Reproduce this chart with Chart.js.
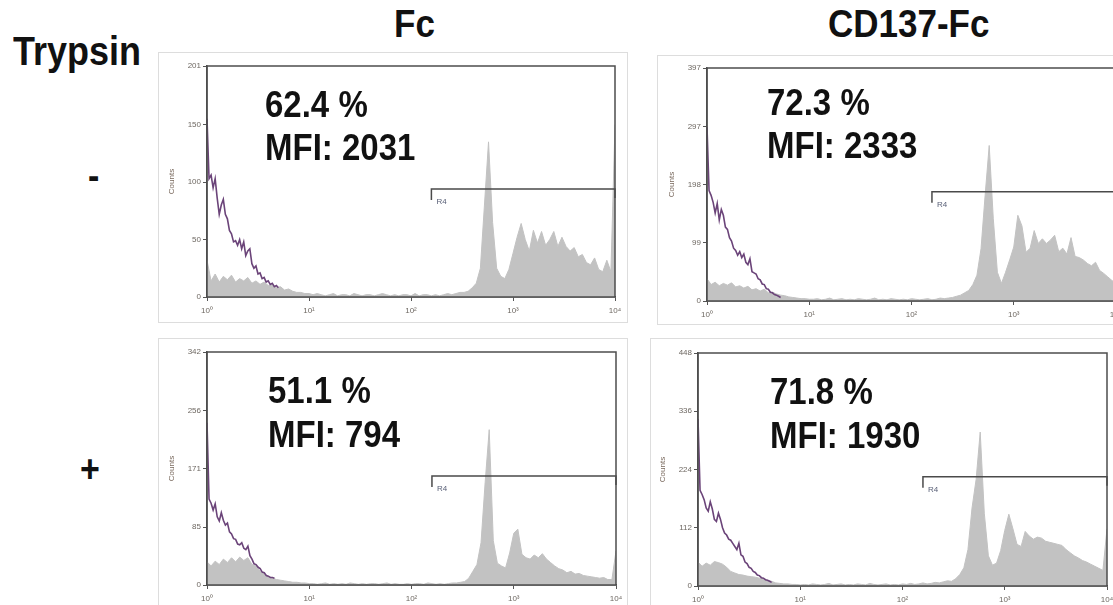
<!DOCTYPE html>
<html>
<head>
<meta charset="utf-8">
<script src="https://cdn.jsdelivr.net/npm/chart.js@4.4.1/dist/chart.umd.min.js"></script>
<style>
  html, body { margin: 0; padding: 0; background: #fff; width: 1113px; height: 605px; overflow: hidden; }
  body { position: relative; font-family: "Liberation Sans", Arial, sans-serif; }
  .lbl { position: absolute; font-weight: bold; color: #111; line-height: 1; white-space: nowrap; transform: scaleY(1.12); transform-origin: left bottom; }
  canvas { position: absolute; outline: 1px solid #dddddd; outline-offset: -1px; }
</style>
</head>
<body>
<div class="lbl" style="left:13px;top:36px;font-size:36px">Trypsin</div>
<div class="lbl" style="left:88px;top:161px;font-size:34px">-</div>
<div class="lbl" style="left:80px;top:454px;font-size:34px">+</div>
<div class="lbl" style="left:394px;top:8px;font-size:35px">Fc</div>
<div class="lbl" style="left:828px;top:8px;font-size:35px">CD137-Fc</div>

<canvas id="p1" width="470" height="271" style="left:158px;top:52px"></canvas>
<canvas id="p2" width="472" height="270" style="left:657px;top:55px"></canvas>
<canvas id="p3" width="470" height="275" style="left:158px;top:338px"></canvas>
<canvas id="p4" width="470" height="275" style="left:650px;top:338px"></canvas>

<script>
// x axis is in decades (10^0 .. 10^4); gray bins are 0.04 decade wide, isotype trace 0.02
const xTickValues = [0, 1, 2, 3, 4];
const xTickLabels = ['10⁰', '10¹', '10²', '10³', '10⁴'];
const grayStep = 0.04;
const purpleStep = 0.02;
const gateStart = 2.2;
const gateEnd = 4;

const yTicksFcMinus = [0, 50, 100, 150, 201];
const yTicksCdMinus = [0, 99, 198, 297, 397];
const yTicksFcPlus = [0, 85, 171, 256, 342];
const yTicksCdPlus = [0, 112, 224, 336, 448];

const gateLevels = [94, 186, 160, 210];
const percentLabels = ['62.4 %', '72.3 %', '51.1 %', '71.8 %'];
const mfiLabels = ['MFI: 2031', 'MFI: 2333', 'MFI: 794', 'MFI: 1930'];

// Fc, trypsin -
const grayFcMinus = [32,14,20,13,18,15,19,13,16,14,17,12,14,11,13,10,11,8,9,6,7,5,4,4,3,3,
  2,3,2,1,2,3,1,2,2,1,3,2,1,2,2,1,2,3,2,1,2,1,2,2,1,3,1,2,2,1,2,1,2,3,2,3,4,
  4,5,8,12,25,80,135,65,25,18,16,24,38,52,64,50,40,58,47,57,45,50,57,44,52,44,40,43,35,37,30,28,34,24,22,32,22,150];
const purpleFcMinus = [155,103,106,95,103,86,72,80,85,72,68,58,55,48,49,45,50,42,48,36,40,42,29,25,27,20,21,16,17,13,14,11,12,9,10,8];

// CD137-Fc, trypsin -
const grayCdMinus = [38,28,32,26,30,27,31,24,26,22,25,19,21,17,20,14,15,12,10,9,7,6,5,4,4,3,
  3,4,2,3,5,2,3,4,2,3,2,4,3,2,3,5,2,3,2,4,3,2,3,2,4,3,2,3,4,2,3,5,4,5,6,8,
  10,14,18,28,44,89,180,265,140,49,30,49,70,92,146,128,83,90,120,98,106,98,104,112,84,90,80,108,76,74,70,64,60,66,52,47,41,35,30];
const purpleCdMinus = [296,188,180,168,150,166,138,156,146,126,122,108,102,90,86,78,84,74,80,66,62,72,50,48,46,38,36,29,28,21,20,15,14,11,10,8,6];

// Fc, trypsin +
const grayFcPlus = [34,28,35,30,38,33,40,34,41,36,40,30,28,20,16,12,10,8,7,6,5,4,4,3,3,2,
  2,1,2,3,1,2,1,2,1,3,2,1,2,1,2,2,1,2,3,1,2,1,1,2,1,2,2,1,3,2,1,2,1,2,3,3,4,
  5,10,20,30,62,150,228,65,32,28,25,47,76,82,45,40,38,44,40,46,38,33,28,24,22,18,20,16,17,14,13,12,11,10,11,8,8,50];
const purpleFcPlus = [238,126,120,110,119,100,94,106,95,88,91,78,75,68,67,60,59,62,54,52,57,43,38,31,30,26,24,19,18,14,13,11,11,10];

// CD137-Fc, trypsin +
const grayCdPlus = [46,38,44,40,47,45,42,36,28,25,22,21,19,18,17,15,13,11,9,6,5,4,4,3,3,2,
  3,2,4,3,2,3,5,2,3,4,2,3,2,4,3,2,5,3,2,3,4,2,3,2,4,3,5,3,4,6,4,5,7,6,8,10,9,
  14,22,35,70,150,205,296,140,58,40,44,68,107,138,110,80,76,105,96,90,94,92,86,84,82,80,78,70,64,58,54,49,46,42,38,34,30,110];
const purpleCdPlus = [321,184,176,166,150,144,162,148,128,124,140,128,112,102,98,90,88,82,76,70,82,60,57,46,43,36,34,28,26,21,20,16,15,12,11,9,7];

const panels = [
  { id: 'p1', gray: grayFcMinus, purple: purpleFcMinus, yTicks: yTicksFcMinus, pad: {left: 7, top: 14, right: 13, bottom: 0}, xH: 26, text: [58, 51, 94] },
  { id: 'p2', gray: grayCdMinus, purple: purpleCdMinus, yTicks: yTicksCdMinus, pad: {left: 8, top: 13, right: 13, bottom: 0}, xH: 24, text: [60, 47, 90] },
  { id: 'p3', gray: grayFcPlus, purple: purpleFcPlus, yTicks: yTicksFcPlus, pad: {left: 7, top: 14, right: 12, bottom: 0}, xH: 28, text: [61, 51, 95] },
  { id: 'p4', gray: grayCdPlus, purple: purpleCdPlus, yTicks: yTicksCdPlus, pad: {left: 6, top: 15, right: 13, bottom: 0}, xH: 27, text: [72, 51, 95] }
];

const toPoints = (arr, step) => arr.map((v, i) => ({ x: i * step, y: v }));

// frame, R4 gate and the stats text
const panelDecor = {
  id: 'panelDecor',
  afterDatasetsDraw(chart, args, opts) {
    const { ctx, chartArea: a, scales: { x, y } } = chart;
    ctx.save();
    const gx1 = x.getPixelForValue(gateStart);
    const gx2 = x.getPixelForValue(gateEnd);
    const gy = y.getPixelForValue(gateLevels[opts.idx]);
    ctx.strokeStyle = '#4a4a4a';
    ctx.lineWidth = 1.5;
    ctx.beginPath();
    ctx.moveTo(gx1, gy + 11);
    ctx.lineTo(gx1, gy);
    ctx.lineTo(gx2, gy);
    ctx.lineTo(gx2, gy + 9);
    ctx.stroke();
    ctx.fillStyle = '#5a6178';
    ctx.font = '8px "Liberation Sans", Arial, sans-serif';
    ctx.textBaseline = 'middle';
    ctx.fillText('R4', gx1 + 5, gy + 13);

    ctx.strokeStyle = '#4d4d4d';
    ctx.lineWidth = 1.5;
    ctx.strokeRect(a.left, a.top, a.right - a.left, a.bottom - a.top);

    const t = opts.text;
    ctx.fillStyle = '#111';
    ctx.font = 'bold 33px "Liberation Sans", Arial, sans-serif';
    ctx.textBaseline = 'alphabetic';
    [[percentLabels[opts.idx], t[1]], [mfiLabels[opts.idx], t[2]]].forEach(([s, dy]) => {
      ctx.save();
      ctx.translate(a.left + t[0], a.top + dy);
      ctx.scale(1, 1.12);
      ctx.fillText(s, 0, 0);
      ctx.restore();
    });
    ctx.restore();
  }
};

panels.forEach((p, idx) => {
  new Chart(document.getElementById(p.id), {
    type: 'line',
    data: {
      datasets: [
        {
          data: toPoints(p.purple, purpleStep),
          borderColor: '#6b4479',
          borderWidth: 1.6,
          pointRadius: 0,
          fill: false,
          order: 1
        },
        {
          data: toPoints(p.gray, grayStep),
          borderColor: '#c2c2c2',
          backgroundColor: '#c2c2c2',
          borderWidth: 1,
          pointRadius: 0,
          fill: 'origin',
          order: 2
        }
      ]
    },
    options: {
      responsive: false,
      animation: false,
      devicePixelRatio: 1,
      layout: { padding: p.pad, autoPadding: false },
      plugins: {
        legend: { display: false },
        tooltip: { enabled: false },
        panelDecor: { idx: idx, text: p.text }
      },
      scales: {
        x: {
          type: 'linear',
          min: 0,
          max: 4,
          afterBuildTicks: s => { s.ticks = xTickValues.map(v => ({ value: v })); },
          afterFit: s => { s.height = p.xH; },
          grid: { display: true, drawOnChartArea: false, tickLength: 4, color: '#555' },
          border: { display: true, color: '#4d4d4d', width: 1.5 },
          ticks: {
            autoSkip: false,
            maxRotation: 0,
            padding: 5,
            color: '#6e6862',
            font: { size: 8, family: '"Liberation Sans", Arial, sans-serif' },
            callback: (v, i) => xTickLabels[i]
          }
        },
        y: {
          type: 'linear',
          min: 0,
          max: p.yTicks[p.yTicks.length - 1],
          afterBuildTicks: s => { s.ticks = p.yTicks.map(v => ({ value: v })); },
          afterFit: s => { s.width = 42; },
          grid: { display: true, drawOnChartArea: false, tickLength: 4, color: '#555' },
          border: { display: true, color: '#4d4d4d', width: 1.5 },
          title: {
            display: true,
            text: 'Counts',
            color: '#7a6a5e',
            padding: 2,
            font: { size: 8, family: '"Liberation Sans", Arial, sans-serif' }
          },
          ticks: {
            autoSkip: false,
            padding: 2,
            color: '#6e6862',
            font: { size: 8, family: '"Liberation Sans", Arial, sans-serif' }
          }
        }
      }
    },
    plugins: [panelDecor]
  });
});
</script>
</body>
</html>
